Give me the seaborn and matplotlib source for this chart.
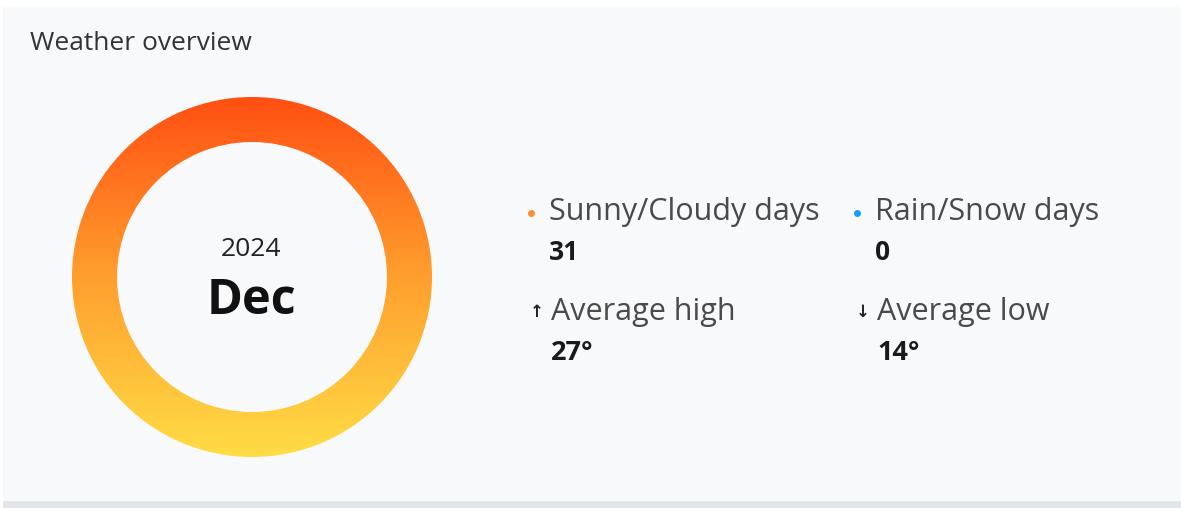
import numpy as np
import matplotlib.pyplot as plt
import seaborn as sns
from matplotlib.colors import LinearSegmentedColormap
from matplotlib.patches import Rectangle

# chart content
title = "Weather overview"
year = "2024"
month = "Dec"
day_labels = ["Sunny/Cloudy days", "Rain/Snow days"]
day_counts = [31, 0]
day_colors = ["#ff8c2e", "#1a9cff"]
temp_labels = ["Average high", "Average low"]
temp_values = [27, 14]
temp_arrows = ["\u2191", "\u2193"]

sns.set_theme(style="white")
plt.rcParams['font.family'] = ['Open Sans', 'DejaVu Sans']

W, H = 1181, 508
fig = plt.figure(figsize=(W / 100, H / 100), dpi=100, facecolor="white")

# background panel, drawn in pixel coordinates
bg = fig.add_axes([0, 0, 1, 1])
bg.set_xlim(0, W)
bg.set_ylim(H, 0)
bg.axis("off")
bg.add_patch(Rectangle((3, 7), W - 3, 494, color="#f8f9fb", lw=0))
bg.add_patch(Rectangle((3, 501), W - 3, 7, color="#e2e6ea", lw=0))
bg.text(30, 44, title, fontsize=19, color="#333333", va="center", ha="left")

# donut with a vertical gradient
cx, cy, r = 252, 277, 180
ax = fig.add_axes([(cx - r) / W, 1 - (cy + r) / H, 2 * r / W, 2 * r / H])
wedges, _ = ax.pie(day_counts, radius=1, startangle=90, counterclock=False,
                   wedgeprops=dict(width=0.25, linewidth=0))
cmap = LinearSegmentedColormap.from_list("sun", ["#ffdc45", "#ff9f2e", "#ff4f12"])
grad = np.linspace(0, 1, 256).reshape(-1, 1)
for w in wedges:
    w.set_facecolor("none")
    im = ax.imshow(grad, extent=(-1, 1, -1, 1), origin="lower", cmap=cmap,
                   aspect="auto", zorder=0)
    im.set_clip_path(w)
ax.set_xlim(-1, 1)
ax.set_ylim(-1, 1)
ax.axis("off")

bg.text(cx - 1, 249, year, fontsize=19, color="#222222", ha="center", va="center")
bg.text(cx - 1, 302, month, fontsize=35, fontweight="bold", color="#111111",
        ha="center", va="center")

# legend / stats block
col_x = [531, 857]
for i in range(2):
    x = col_x[i]
    bg.plot(x, 213, marker="o", ms=5, color=day_colors[i], mec="none")
    bg.text(x + 18, 212, day_labels[i], fontsize=22, color="#4a4a4a", va="center")
    bg.text(x + 18, 253, str(day_counts[i]), fontsize=19, fontweight="bold",
            color="#1a1a1a", va="center")
    bg.text(x + 6, 312, temp_arrows[i], fontsize=12, fontweight="bold",
            color="#222222", ha="center", va="center", family="DejaVu Sans")
    bg.text(x + 20, 312, temp_labels[i], fontsize=22, color="#4a4a4a", va="center")
    bg.text(x + 20, 353, f"{temp_values[i]}\u00b0", fontsize=19.5, fontweight="bold",
            color="#1a1a1a", va="center")

fig.savefig("out.png", dpi=100, facecolor="white")
